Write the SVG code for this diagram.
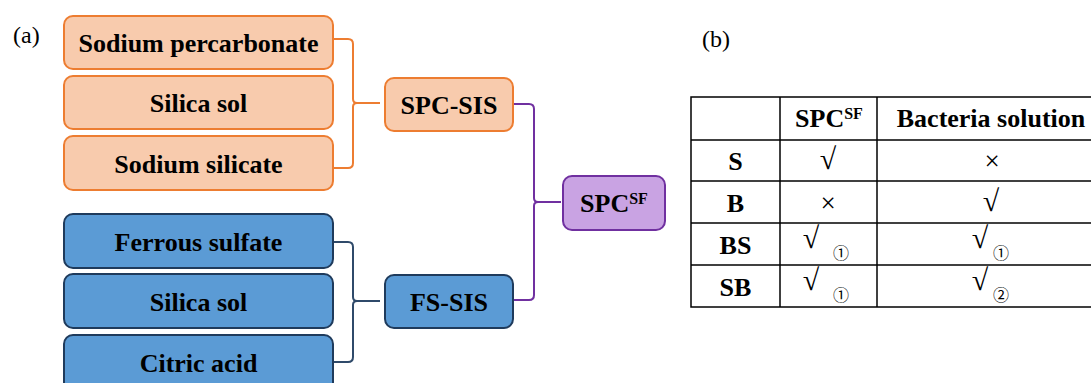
<svg xmlns="http://www.w3.org/2000/svg" width="1091" height="383" viewBox="0 0 1091 383">
<style>
.t{font-family:"Liberation Serif","Times New Roman",serif;font-weight:bold;font-size:26px;fill:#000;text-anchor:middle}
.r{font-family:"Liberation Serif","Times New Roman",serif;font-size:24px;fill:#000}
.m{font-family:"Liberation Serif","DejaVu Serif",serif;font-size:27px;fill:#000;text-anchor:middle}
.v{font-family:"Liberation Serif","DejaVu Serif",serif;font-size:30px;fill:#000;text-anchor:middle}
.c{font-family:"Noto Sans CJK SC","DejaVu Sans",sans-serif;font-size:16px;fill:#000;text-anchor:middle}
.o{fill:#F8CBAD;stroke:#ED7D31;stroke-width:2}
.b{fill:#5B9BD5;stroke:#1F3B5C;stroke-width:2}
.p{fill:#C9A3E3;stroke:#7030A0;stroke-width:2}
.ln{fill:none;stroke-width:2}
.tb{stroke:#000;stroke-width:1.5;fill:none}
</style>
<rect width="1091" height="383" fill="#fff"/>
<text class="r" x="13" y="43">(a)</text>
<text class="r" x="702" y="47">(b)</text>

<g id="connectors">
<path class="ln" stroke="#ED7D31" d="M333,39 L348,39 Q353,39 353,44 L353,99 Q353,103 357,103 Q353,103 353,107 L353,163 Q353,168 348,168 L333,168 M357,103 L380,103"/>
<path class="ln" stroke="#2F4A6A" d="M333,242 L348,242 Q353,242 353,247 L353,297 Q353,301 357,301 Q353,301 353,305 L353,357 Q353,362 348,362 L333,362 M357,301 L380,301"/>
<path class="ln" stroke="#7030A0" d="M513,104 L529,104 Q534,104 534,109 L534,198 Q534,202 538,202 Q534,202 534,206 L534,295 Q534,300 529,300 L513,300 M538,202 L561,202"/>
</g>

<g id="n-sodium-percarbonate"><rect class="o" x="64" y="16" width="269" height="53" rx="9"/><text class="t" x="198.5" y="52">Sodium percarbonate</text></g>
<g id="n-silica-sol-1"><rect class="o" x="64" y="76" width="269" height="53" rx="9"/><text class="t" x="198.5" y="112">Silica sol</text></g>
<g id="n-sodium-silicate"><rect class="o" x="64" y="136" width="269" height="54" rx="9"/><text class="t" x="198.5" y="173">Sodium silicate</text></g>
<g id="n-spc-sis"><rect class="o" x="385" y="78" width="128" height="53" rx="9"/><text class="t" x="449" y="114">SPC-SIS</text></g>

<g id="n-ferrous-sulfate"><rect class="b" x="64" y="214" width="269" height="54" rx="9"/><text class="t" x="198.5" y="251">Ferrous sulfate</text></g>
<g id="n-silica-sol-2"><rect class="b" x="64" y="274" width="269" height="54" rx="9"/><text class="t" x="198.5" y="311">Silica sol</text></g>
<g id="n-citric-acid"><rect class="b" x="64" y="335" width="269" height="56" rx="9"/><text class="t" x="198.5" y="372">Citric acid</text></g>
<g id="n-fs-sis"><rect class="b" x="385" y="275" width="128" height="53" rx="9"/><text class="t" x="449" y="311">FS-SIS</text></g>

<g id="n-spcsf"><rect class="p" x="563" y="176" width="102" height="54" rx="9"/><text class="t" x="614" y="212">SPC<tspan font-size="16" dy="-8">SF</tspan></text></g>

<g id="table">
<rect class="tb" x="691" y="97" width="420" height="210"/>
<line class="tb" x1="691" y1="140" x2="1100" y2="140"/>
<line class="tb" x1="691" y1="181" x2="1100" y2="181"/>
<line class="tb" x1="691" y1="223" x2="1100" y2="223"/>
<line class="tb" x1="691" y1="265" x2="1100" y2="265"/>
<line class="tb" x1="780" y1="97" x2="780" y2="307"/>
<line class="tb" x1="877" y1="97" x2="877" y2="307"/>
<text class="t" x="829" y="127">SPC<tspan font-size="16" dy="-8">SF</tspan></text>
<text class="t" x="991" y="127">Bacteria solution</text>
<text class="t" x="735.5" y="170">S</text>
<text class="t" x="735.5" y="212">B</text>
<text class="t" x="735.5" y="254">BS</text>
<text class="t" x="735.5" y="296">SB</text>
<text class="v" x="828" y="169">√</text>
<text class="m" x="992" y="170">×</text>
<text class="m" x="828" y="212">×</text>
<text class="v" x="991" y="211">√</text>
<text class="v" x="811" y="248">√</text>
<text class="c" x="841" y="259">①</text>
<text class="v" x="980" y="248">√</text>
<text class="c" x="1001" y="259">①</text>
<text class="v" x="811" y="290">√</text>
<text class="c" x="841" y="301">①</text>
<text class="v" x="980" y="290">√</text>
<text class="c" x="1001" y="301">②</text>
</g>
</svg>
